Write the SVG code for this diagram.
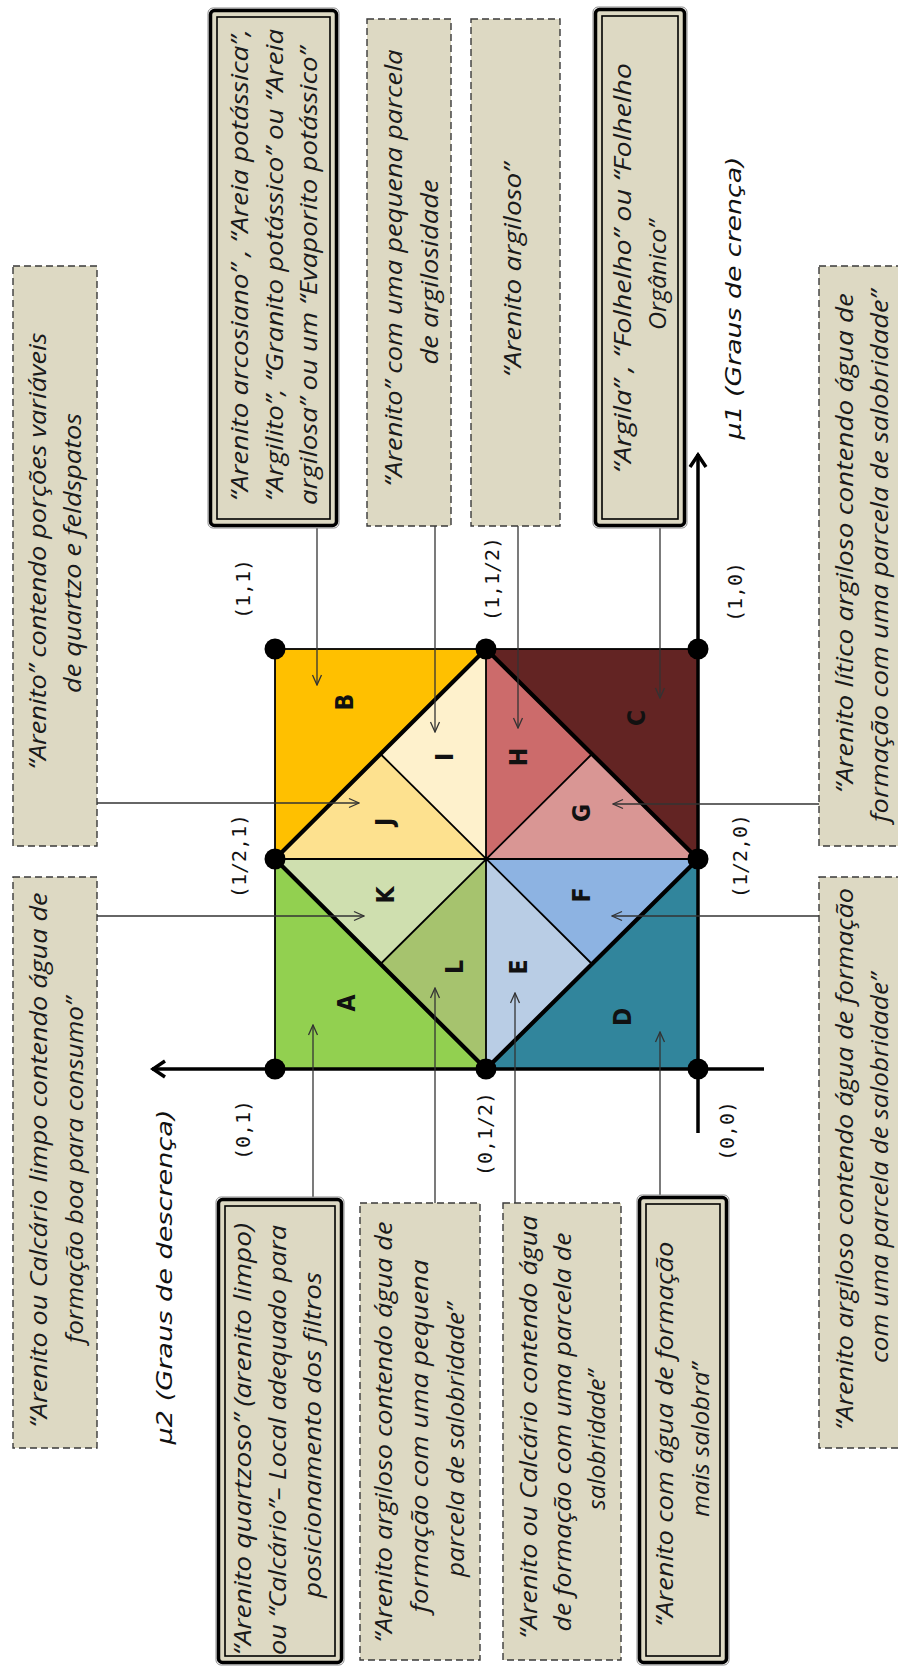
<svg xmlns="http://www.w3.org/2000/svg" width="898" height="1666" viewBox="0 0 898 1666">
<style>
.bg{fill:#fff}
.dash{fill:#DDD9C3;stroke:#3a3a3a;stroke-width:1.4;stroke-dasharray:7 4}
.dbo{fill:none;stroke:#8a8a8a;stroke-width:1}
.dbk{fill:#DDD9C3;stroke:#000;stroke-width:3.5}
.dbi{fill:none;stroke:#000;stroke-width:1.6}
.bt{font-family:"Open Sans","DejaVu Sans",sans-serif;font-style:italic;font-size:24px;fill:#1a1a1a;text-anchor:middle}
.lt{font-family:"DejaVu Sans","Liberation Sans",sans-serif;font-weight:bold;font-size:25px;fill:#111;text-anchor:middle}
.ct{font-family:"DejaVu Sans Mono","Liberation Mono",monospace;font-size:20px;fill:#111;text-anchor:middle}
.ax{font-family:"DejaVu Sans",sans-serif;font-style:italic;font-size:22px;fill:#111;text-anchor:middle}
.thin{fill:none;stroke:#000;stroke-width:1.8}
.con{fill:none;stroke:#333;stroke-width:1.3;marker-end:url(#arr)}
.axis{fill:none;stroke:#000;stroke-width:3.5}
</style>
<defs>
<marker id="arr" markerUnits="userSpaceOnUse" viewBox="0 0 12 12" refX="11" refY="6" markerWidth="12" markerHeight="12" orient="auto">
<path d="M1,1.5 L11,6 L1,10.5" fill="none" stroke="#333" stroke-width="1.3"/>
</marker>
<marker id="axarr" markerUnits="userSpaceOnUse" viewBox="0 0 20 20" refX="18" refY="10" markerWidth="20" markerHeight="20" orient="auto">
<path d="M5,2 L17,10 L5,18" fill="none" stroke="#000" stroke-width="3.5"/>
</marker>
</defs>
<rect class="bg" x="0" y="0" width="898" height="1666"/>

<g id="diagram">
<polygon id="A" points="275,859 275,1069 486,1069" fill="#92D050"/>
<polygon id="B" points="275,649 486,649 275,859" fill="#FFC000"/>
<polygon id="C" points="486,649 698,649 698,859" fill="#632423"/>
<polygon id="D" points="698,859 698,1069 486,1069" fill="#31859C"/>
<polygon id="I" points="486,649 380.5,754 486,859" fill="#FEF1CC"/>
<polygon id="J" points="380.5,754 275,859 486,859" fill="#FDE18F"/>
<polygon id="K" points="275,859 380.5,964 486,859" fill="#CFDFAF"/>
<polygon id="L" points="380.5,964 486,1069 486,859" fill="#A6C36E"/>
<polygon id="E" points="486,859 486,1069 592,964" fill="#B9CDE5"/>
<polygon id="F" points="486,859 592,964 698,859" fill="#8DB3E2"/>
<polygon id="G" points="486,859 698,859 592,754" fill="#D99694"/>
<polygon id="H" points="486,859 592,754 486,649" fill="#CC6B6B"/>
<path class="thin" d="M486,649 V1069 M275,859 H698 M380.5,754 L592,964 M592,754 L380.5,964"/>
<rect class="thin" x="275" y="649" width="423" height="420"/>
<path d="M275,859 L486,649 L698,859 L486,1069 Z" fill="none" stroke="#000" stroke-width="4.2" stroke-linejoin="miter"/>
<path class="axis" d="M698,1133 V454" marker-end="url(#axarr)"/>
<path class="axis" d="M764,1069 H152" marker-end="url(#axarr)"/>
<g fill="#000">
<circle cx="275" cy="649" r="10.5"/><circle cx="486" cy="649" r="10.5"/><circle cx="698" cy="649" r="10.5"/>
<circle cx="275" cy="859" r="10.5"/><circle cx="698" cy="859" r="10.5"/>
<circle cx="275" cy="1069" r="10.5"/><circle cx="486" cy="1069" r="10.5"/><circle cx="698" cy="1069" r="10.5"/>
</g>
<g id="letters">
<text class="lt" transform="translate(355,1003) rotate(-90) scale(0.88,1)">A</text>
<text class="lt" transform="translate(353,702) rotate(-90) scale(0.88,1)">B</text>
<text class="lt" transform="translate(645,718) rotate(-90) scale(0.88,1)">C</text>
<text class="lt" transform="translate(631,1017) rotate(-90) scale(0.88,1)">D</text>
<text class="lt" transform="translate(527,967) rotate(-90) scale(0.88,1)">E</text>
<text class="lt" transform="translate(590,895) rotate(-90) scale(0.88,1)">F</text>
<text class="lt" transform="translate(590,813) rotate(-90) scale(0.88,1)">G</text>
<text class="lt" transform="translate(527,757) rotate(-90) scale(0.88,1)">H</text>
<text class="lt" transform="translate(453,757) rotate(-90) scale(0.88,1)">I</text>
<text class="lt" transform="translate(393,822) rotate(-90) scale(0.88,1)">J</text>
<text class="lt" transform="translate(394,895) rotate(-90) scale(0.88,1)">K</text>
<text class="lt" transform="translate(463,967) rotate(-90) scale(0.88,1)">L</text>
</g>
<g id="coords">
<text class="ct" transform="translate(250,589) rotate(-90)">(1,1)</text>
<text class="ct" transform="translate(499,579) rotate(-90)">(1,1/2)</text>
<text class="ct" transform="translate(742,592) rotate(-90)">(1,0)</text>
<text class="ct" transform="translate(246,856) rotate(-90)">(1/2,1)</text>
<text class="ct" transform="translate(747,856) rotate(-90)">(1/2,0)</text>
<text class="ct" transform="translate(250,1130) rotate(-90)">(0,1)</text>
<text class="ct" transform="translate(492,1134) rotate(-90)">(0,1/2)</text>
<text class="ct" transform="translate(734,1131) rotate(-90)">(0,0)</text>
</g>
<text class="ax" transform="translate(741,298) rotate(-90)" textLength="283" lengthAdjust="spacingAndGlyphs">μ1 (Graus de crença)</text>
<text class="ax" transform="translate(172,1277) rotate(-90)" textLength="335" lengthAdjust="spacingAndGlyphs">μ2 (Graus de descrença)</text>
</g>

<g id="connectors">
<path class="con" d="M317,528 V685"/>
<path class="con" d="M435,526 V732"/>
<path class="con" d="M518,526 V728"/>
<path class="con" d="M660,528 V698"/>
<path class="con" d="M97,803 H359"/>
<path class="con" d="M97,916 H364"/>
<path class="con" d="M819,804 H613"/>
<path class="con" d="M819,916 H612"/>
<path class="con" d="M313,1197 V1025"/>
<path class="con" d="M435,1203 V988"/>
<path class="con" d="M515,1203 V993"/>
<path class="con" d="M660,1195 V1032"/>
</g>

<g id="box-L1">
<rect class="dash" x="13" y="266" width="84" height="580"/>
<text class="bt" transform="translate(46,551) rotate(-90)" textLength="437" lengthAdjust="spacingAndGlyphs">“Arenito” contendo porções variáveis</text>
<text class="bt" transform="translate(81,553) rotate(-90)" textLength="280" lengthAdjust="spacingAndGlyphs">de quartzo e feldspatos</text>
</g>
<g id="box-L2">
<rect class="dash" x="13" y="877" width="84" height="571"/>
<text class="bt" transform="translate(47,1160) rotate(-90)" textLength="535" lengthAdjust="spacingAndGlyphs">“Arenito ou Calcário limpo contendo água de</text>
<text class="bt" transform="translate(83,1170) rotate(-90)" textLength="346" lengthAdjust="spacingAndGlyphs">formação boa para consumo”</text>
</g>
<g id="box-R1">
<rect class="dash" x="819" y="266" width="84" height="580"/>
<text class="bt" transform="translate(853,543) rotate(-90)" textLength="500" lengthAdjust="spacingAndGlyphs">“Arenito lítico argiloso contendo água de</text>
<text class="bt" transform="translate(888,556) rotate(-90)" textLength="532" lengthAdjust="spacingAndGlyphs">formação com uma parcela de salobridade”</text>
</g>
<g id="box-R2">
<rect class="dash" x="819" y="877" width="84" height="571"/>
<text class="bt" transform="translate(853,1159) rotate(-90)" textLength="542" lengthAdjust="spacingAndGlyphs">“Arenito argiloso contendo água de formação</text>
<text class="bt" transform="translate(888,1168) rotate(-90)" textLength="390" lengthAdjust="spacingAndGlyphs">com uma parcela de salobridade”</text>
</g>

<g id="box-T1">
<rect class="dbo" x="208" y="8" width="131" height="520" rx="5"/>
<rect class="dbk" x="210.5" y="10.5" width="126" height="515" rx="4"/>
<rect class="dbi" x="217" y="17" width="113" height="502"/>
<text class="bt" transform="translate(248,265) rotate(-90)" textLength="472" lengthAdjust="spacingAndGlyphs">“Arenito  arcosiano”  ,  “Areia  potássica”,</text>
<text class="bt" transform="translate(283,265) rotate(-90)" textLength="472" lengthAdjust="spacingAndGlyphs">“Argilito”, “Granito potássico” ou “Areia</text>
<text class="bt" transform="translate(317,276) rotate(-90)" textLength="458" lengthAdjust="spacingAndGlyphs">argilosa” ou um “Evaporito potássico”</text>
</g>
<g id="box-T2">
<rect class="dash" x="367" y="19" width="84" height="507"/>
<text class="bt" transform="translate(402,268) rotate(-90)" textLength="437" lengthAdjust="spacingAndGlyphs">“Arenito” com uma pequena  parcela</text>
<text class="bt" transform="translate(438,272) rotate(-90)" textLength="185" lengthAdjust="spacingAndGlyphs">de argilosidade</text>
</g>
<g id="box-T3">
<rect class="dash" x="471" y="19" width="89" height="507"/>
<text class="bt" transform="translate(521,270) rotate(-90)" textLength="214" lengthAdjust="spacingAndGlyphs">“Arenito argiloso”</text>
</g>
<g id="box-T4">
<rect class="dbo" x="593" y="7" width="94" height="521" rx="5"/>
<rect class="dbk" x="595.5" y="9.5" width="89" height="516" rx="4"/>
<rect class="dbi" x="602" y="16" width="76" height="503"/>
<text class="bt" transform="translate(631,268) rotate(-90)" textLength="410" lengthAdjust="spacingAndGlyphs">“Argila” , “Folhelho” ou “Folhelho</text>
<text class="bt" transform="translate(666,275) rotate(-90)" textLength="110" lengthAdjust="spacingAndGlyphs">Orgânico”</text>
</g>

<g id="box-B1">
<rect class="dbo" x="216" y="1197" width="128" height="468" rx="5"/>
<rect class="dbk" x="218.5" y="1199.5" width="123" height="463" rx="4"/>
<rect class="dbi" x="225" y="1206" width="110" height="450"/>
<text class="bt" transform="translate(251,1439) rotate(-90)" textLength="432" lengthAdjust="spacingAndGlyphs">“Arenito quartzoso”  (arenito limpo)</text>
<text class="bt" transform="translate(286,1440) rotate(-90)" textLength="430" lengthAdjust="spacingAndGlyphs">ou  “Calcário”– Local adequado para</text>
<text class="bt" transform="translate(321,1435) rotate(-90)" textLength="326" lengthAdjust="spacingAndGlyphs">posicionamento  dos filtros</text>
</g>
<g id="box-B2">
<rect class="dash" x="360" y="1203" width="120" height="457"/>
<text class="bt" transform="translate(392,1432) rotate(-90)" textLength="421" lengthAdjust="spacingAndGlyphs">“Arenito argiloso contendo água de</text>
<text class="bt" transform="translate(428,1436) rotate(-90)" textLength="353" lengthAdjust="spacingAndGlyphs">formação com uma pequena</text>
<text class="bt" transform="translate(464,1440) rotate(-90)" textLength="274" lengthAdjust="spacingAndGlyphs">parcela de salobridade”</text>
</g>
<g id="box-B3">
<rect class="dash" x="503" y="1203" width="118" height="457"/>
<text class="bt" transform="translate(537,1427) rotate(-90)" textLength="423" lengthAdjust="spacingAndGlyphs">“Arenito ou Calcário contendo água</text>
<text class="bt" transform="translate(571,1432) rotate(-90)" textLength="399" lengthAdjust="spacingAndGlyphs">de formação com uma parcela de</text>
<text class="bt" transform="translate(605,1440) rotate(-90)" textLength="140" lengthAdjust="spacingAndGlyphs">salobridade”</text>
</g>
<g id="box-B4">
<rect class="dbo" x="637" y="1195" width="92" height="470" rx="5"/>
<rect class="dbk" x="639.5" y="1197.5" width="87" height="465" rx="4"/>
<rect class="dbi" x="646" y="1204" width="74" height="452"/>
<text class="bt" transform="translate(673,1434) rotate(-90)" textLength="385" lengthAdjust="spacingAndGlyphs">“Arenito com água de formação</text>
<text class="bt" transform="translate(709,1440) rotate(-90)" textLength="154" lengthAdjust="spacingAndGlyphs">mais salobra”</text>
</g>
</svg>
